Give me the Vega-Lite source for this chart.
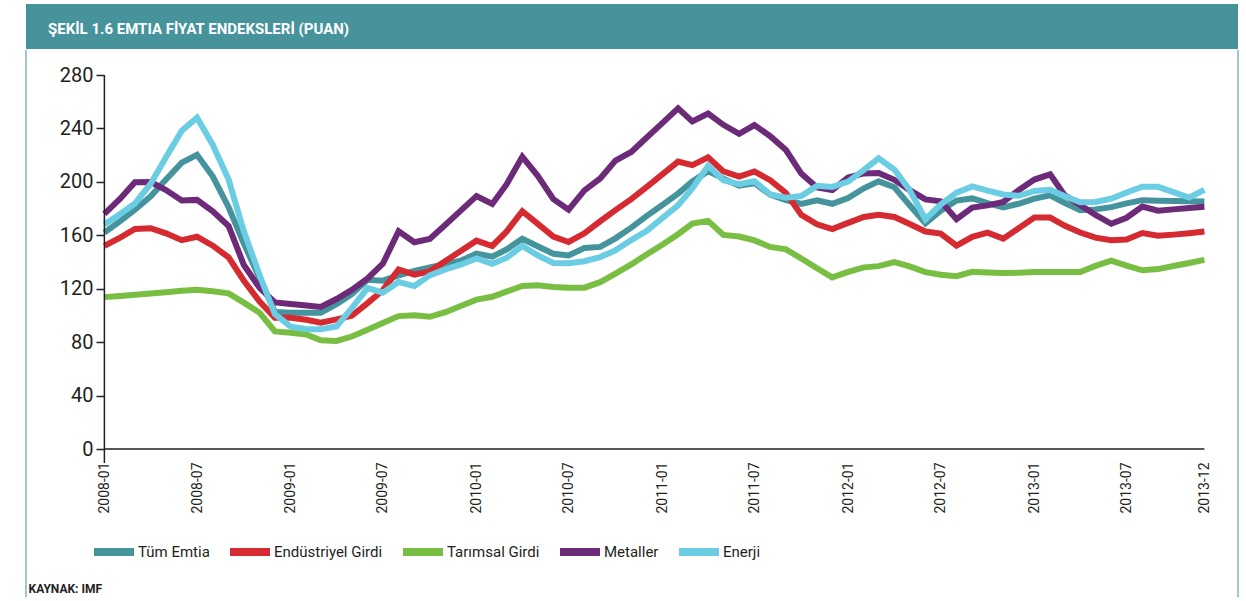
{
  "$schema": "https://vega.github.io/schema/vega-lite/v6.json",
  "background": "white",
  "padding": {"left": 25, "top": 4, "right": 5, "bottom": 0},
  "spacing": 0,
  "config": {
    "view": {"stroke": null},
    "font": "Roboto"
  },
  "vconcat": [
    {
      "width": 1212,
      "height": 45,
      "data": {"values": [{}]},
      "mark": {"type": "rect", "color": "#46939c"},
      "encoding": {
        "x": {"value": 0},
        "x2": {"value": "width"},
        "y": {"value": 0},
        "y2": {"value": "height"}
      },
      "title": {
        "text": "ŞEKİL 1.6 EMTIA FİYAT ENDEKSLERİ (PUAN)",
        "orient": "top",
        "anchor": "start",
        "frame": "group",
        "offset": -32,
        "dx": 22,
        "dy": 13,
        "baseline": "alphabetic",
        "color": "white",
        "fontSize": 15,
        "fontWeight": "bold",
        "font": "Roboto"
      }
    },
    {
      "width": 1212,
      "height": 374,
      "layer": [
        {
          "data": {"values": [{}]},
          "mark": {"type": "rule", "color": "#9ccacf", "strokeWidth": 2},
          "encoding": {
            "x": {"datum": {"year": 2007, "month": 7, "date": 31, "utc": true}, "type": "temporal"},
            "y": {"datum": -111, "type": "quantitative"},
            "y2": {"datum": 298.7}
          }
        },
        {
          "data": {"values": [{}]},
          "mark": {"type": "rule", "color": "#9ccacf", "strokeWidth": 2},
          "encoding": {
            "x": {"datum": {"year": 2014, "month": 2, "date": 5, "utc": true}, "type": "temporal"},
            "y": {"datum": -111, "type": "quantitative"},
            "y2": {"datum": 298.7}
          }
        },
        {
          "data": {
            "values": [
              {"ay": "2008-01-01", "Tüm Emtia": 162, "Endüstriyel Girdi": 152, "Tarımsal Girdi": 113.7, "Metaller": 176, "Enerji": 168},
              {"ay": "2008-02-01", "Tüm Emtia": 170.6, "Endüstriyel Girdi": 158.3, "Tarımsal Girdi": 114.6, "Metaller": 187.4, "Enerji": 176},
              {"ay": "2008-03-01", "Tüm Emtia": 179.1, "Endüstriyel Girdi": 164.7, "Tarımsal Girdi": 115.5, "Metaller": 199.7, "Enerji": 183.8},
              {"ay": "2008-04-01", "Tüm Emtia": 189.2, "Endüstriyel Girdi": 165.3, "Tarımsal Girdi": 116.5, "Metaller": 199.8, "Enerji": 198.6},
              {"ay": "2008-05-01", "Tüm Emtia": 201.8, "Endüstriyel Girdi": 161.5, "Tarımsal Girdi": 117.4, "Metaller": 193.9, "Enerji": 218.4},
              {"ay": "2008-06-01", "Tüm Emtia": 214.4, "Endüstriyel Girdi": 156.3, "Tarımsal Girdi": 118.4, "Metaller": 186.1, "Enerji": 238.2},
              {"ay": "2008-07-01", "Tüm Emtia": 220.3, "Endüstriyel Girdi": 158.9, "Tarımsal Girdi": 119.3, "Metaller": 186.5, "Enerji": 248},
              {"ay": "2008-08-01", "Tüm Emtia": 204, "Endüstriyel Girdi": 152.2, "Tarımsal Girdi": 118.1, "Metaller": 178, "Enerji": 227.6},
              {"ay": "2008-09-01", "Tüm Emtia": 181, "Endüstriyel Girdi": 143.4, "Tarımsal Girdi": 116.5, "Metaller": 167, "Enerji": 201.7},
              {"ay": "2008-10-01", "Tüm Emtia": 153.8, "Endüstriyel Girdi": 126, "Tarımsal Girdi": 109.6, "Metaller": 137.7, "Enerji": 163},
              {"ay": "2008-11-01", "Tüm Emtia": 127.9, "Endüstriyel Girdi": 110.3, "Tarımsal Girdi": 102, "Metaller": 120.6, "Enerji": 130},
              {"ay": "2008-12-01", "Tüm Emtia": 102.5, "Endüstriyel Girdi": 98.3, "Tarımsal Girdi": 88, "Metaller": 109.7, "Enerji": 101},
              {"ay": "2009-01-01", "Tüm Emtia": 102, "Endüstriyel Girdi": 98.3, "Tarımsal Girdi": 87, "Metaller": 108.5, "Enerji": 91.6},
              {"ay": "2009-02-01", "Tüm Emtia": 102, "Endüstriyel Girdi": 96.8, "Tarımsal Girdi": 85.8, "Metaller": 107.4, "Enerji": 89.6},
              {"ay": "2009-03-01", "Tüm Emtia": 102, "Endüstriyel Girdi": 94.6, "Tarımsal Girdi": 81.4, "Metaller": 106.3, "Enerji": 89.6},
              {"ay": "2009-04-01", "Tüm Emtia": 108.4, "Endüstriyel Girdi": 97, "Tarımsal Girdi": 80.9, "Metaller": 112.3, "Enerji": 91.8},
              {"ay": "2009-05-01", "Tüm Emtia": 115.9, "Endüstriyel Girdi": 99.7, "Tarımsal Girdi": 84.2, "Metaller": 119.1, "Enerji": 105.4},
              {"ay": "2009-06-01", "Tüm Emtia": 126.7, "Endüstriyel Girdi": 109.2, "Tarımsal Girdi": 89.3, "Metaller": 127.7, "Enerji": 120.5},
              {"ay": "2009-07-01", "Tüm Emtia": 126, "Endüstriyel Girdi": 118.9, "Tarımsal Girdi": 94.4, "Metaller": 138.7, "Enerji": 117},
              {"ay": "2009-08-01", "Tüm Emtia": 130, "Endüstriyel Girdi": 134.4, "Tarımsal Girdi": 99.5, "Metaller": 163, "Enerji": 125},
              {"ay": "2009-09-01", "Tüm Emtia": 133.4, "Endüstriyel Girdi": 130.5, "Tarımsal Girdi": 100.1, "Metaller": 154.8, "Enerji": 122},
              {"ay": "2009-10-01", "Tüm Emtia": 135.9, "Endüstriyel Girdi": 133, "Tarımsal Girdi": 99, "Metaller": 157.3, "Enerji": 130},
              {"ay": "2009-11-01", "Tüm Emtia": 138.4, "Endüstriyel Girdi": 140.7, "Tarımsal Girdi": 102.4, "Metaller": 167.9, "Enerji": 134.5},
              {"ay": "2009-12-01", "Tüm Emtia": 140.9, "Endüstriyel Girdi": 148.3, "Tarımsal Girdi": 107.1, "Metaller": 178.5, "Enerji": 138},
              {"ay": "2010-01-01", "Tüm Emtia": 146.3, "Endüstriyel Girdi": 156, "Tarımsal Girdi": 111.8, "Metaller": 189.4, "Enerji": 142.7},
              {"ay": "2010-02-01", "Tüm Emtia": 144, "Endüstriyel Girdi": 152, "Tarımsal Girdi": 114, "Metaller": 183.4, "Enerji": 138.7},
              {"ay": "2010-03-01", "Tüm Emtia": 149.4, "Endüstriyel Girdi": 162.7, "Tarımsal Girdi": 117.8, "Metaller": 198.1, "Enerji": 143},
              {"ay": "2010-04-01", "Tüm Emtia": 157.4, "Endüstriyel Girdi": 178, "Tarımsal Girdi": 122.1, "Metaller": 218.8, "Enerji": 152},
              {"ay": "2010-05-01", "Tüm Emtia": 151.8, "Endüstriyel Girdi": 168.7, "Tarımsal Girdi": 122.5, "Metaller": 204.7, "Enerji": 145},
              {"ay": "2010-06-01", "Tüm Emtia": 146.2, "Endüstriyel Girdi": 159, "Tarımsal Girdi": 121.3, "Metaller": 187, "Enerji": 139.3},
              {"ay": "2010-07-01", "Tüm Emtia": 144.9, "Endüstriyel Girdi": 155, "Tarımsal Girdi": 120.8, "Metaller": 179.2, "Enerji": 139.1},
              {"ay": "2010-08-01", "Tüm Emtia": 150.5, "Endüstriyel Girdi": 161.5, "Tarımsal Girdi": 120.8, "Metaller": 193.6, "Enerji": 140.6},
              {"ay": "2010-09-01", "Tüm Emtia": 151.3, "Endüstriyel Girdi": 170.5, "Tarımsal Girdi": 124.9, "Metaller": 202.5, "Enerji": 143.7},
              {"ay": "2010-10-01", "Tüm Emtia": 157.7, "Endüstriyel Girdi": 178.8, "Tarımsal Girdi": 131.3, "Metaller": 215.9, "Enerji": 148.7},
              {"ay": "2010-11-01", "Tüm Emtia": 165.7, "Endüstriyel Girdi": 187.1, "Tarımsal Girdi": 138.2, "Metaller": 222.4, "Enerji": 156.4},
              {"ay": "2010-12-01", "Tüm Emtia": 174.4, "Endüstriyel Girdi": 196, "Tarımsal Girdi": 145.6, "Metaller": 233, "Enerji": 163.2},
              {"ay": "2011-01-01", "Tüm Emtia": 182.7, "Endüstriyel Girdi": 205.6, "Tarımsal Girdi": 152.9, "Metaller": 244, "Enerji": 172.8},
              {"ay": "2011-02-01", "Tüm Emtia": 191.2, "Endüstriyel Girdi": 215.2, "Tarımsal Girdi": 160.8, "Metaller": 255, "Enerji": 182.5},
              {"ay": "2011-03-01", "Tüm Emtia": 200.3, "Endüstriyel Girdi": 212.5, "Tarımsal Girdi": 168.8, "Metaller": 245.2, "Enerji": 195},
              {"ay": "2011-04-01", "Tüm Emtia": 208, "Endüstriyel Girdi": 218.3, "Tarımsal Girdi": 170.8, "Metaller": 251.1, "Enerji": 212},
              {"ay": "2011-05-01", "Tüm Emtia": 202.4, "Endüstriyel Girdi": 207.8, "Tarımsal Girdi": 160.3, "Metaller": 242.7, "Enerji": 201.2},
              {"ay": "2011-06-01", "Tüm Emtia": 197.1, "Endüstriyel Girdi": 203.9, "Tarımsal Girdi": 159.1, "Metaller": 236, "Enerji": 198.3},
              {"ay": "2011-07-01", "Tüm Emtia": 199, "Endüstriyel Girdi": 207.8, "Tarımsal Girdi": 156.2, "Metaller": 242.5, "Enerji": 200.5},
              {"ay": "2011-08-01", "Tüm Emtia": 190.4, "Endüstriyel Girdi": 201.2, "Tarımsal Girdi": 151.3, "Metaller": 234.2, "Enerji": 190.5},
              {"ay": "2011-09-01", "Tüm Emtia": 186.4, "Endüstriyel Girdi": 191.7, "Tarımsal Girdi": 149.5, "Metaller": 223.8, "Enerji": 188.1},
              {"ay": "2011-10-01", "Tüm Emtia": 183.5, "Endüstriyel Girdi": 175.3, "Tarımsal Girdi": 142.6, "Metaller": 206.2, "Enerji": 189.4},
              {"ay": "2011-11-01", "Tüm Emtia": 186.2, "Endüstriyel Girdi": 168.2, "Tarımsal Girdi": 135.3, "Metaller": 195.8, "Enerji": 197},
              {"ay": "2011-12-01", "Tüm Emtia": 183.6, "Endüstriyel Girdi": 164.7, "Tarımsal Girdi": 128.5, "Metaller": 193.8, "Enerji": 196.2},
              {"ay": "2012-01-01", "Tüm Emtia": 187.8, "Endüstriyel Girdi": 169.3, "Tarımsal Girdi": 132.6, "Metaller": 203.2, "Enerji": 200.2},
              {"ay": "2012-02-01", "Tüm Emtia": 195.2, "Endüstriyel Girdi": 173.7, "Tarımsal Girdi": 136, "Metaller": 206.3, "Enerji": 208.9},
              {"ay": "2012-03-01", "Tüm Emtia": 200.4, "Endüstriyel Girdi": 175.4, "Tarımsal Girdi": 136.9, "Metaller": 206.6, "Enerji": 217.6},
              {"ay": "2012-04-01", "Tüm Emtia": 196, "Endüstriyel Girdi": 173.7, "Tarımsal Girdi": 139.9, "Metaller": 201.5, "Enerji": 209.1},
              {"ay": "2012-05-01", "Tüm Emtia": 182.5, "Endüstriyel Girdi": 168.4, "Tarımsal Girdi": 136.7, "Metaller": 193.8, "Enerji": 193.9},
              {"ay": "2012-06-01", "Tüm Emtia": 169, "Endüstriyel Girdi": 162.8, "Tarımsal Girdi": 132.4, "Metaller": 186.9, "Enerji": 172},
              {"ay": "2012-07-01", "Tüm Emtia": 178.4, "Endüstriyel Girdi": 161.3, "Tarımsal Girdi": 130.5, "Metaller": 185.5, "Enerji": 183},
              {"ay": "2012-08-01", "Tüm Emtia": 186, "Endüstriyel Girdi": 152.2, "Tarımsal Girdi": 129.4, "Metaller": 172, "Enerji": 191.9},
              {"ay": "2012-09-01", "Tüm Emtia": 187.6, "Endüstriyel Girdi": 158.8, "Tarımsal Girdi": 132.7, "Metaller": 180.8, "Enerji": 196.6},
              {"ay": "2012-10-01", "Tüm Emtia": 184.1, "Endüstriyel Girdi": 162, "Tarımsal Girdi": 132.2, "Metaller": 182.4, "Enerji": 193.4},
              {"ay": "2012-11-01", "Tüm Emtia": 180.8, "Endüstriyel Girdi": 157.5, "Tarımsal Girdi": 131.7, "Metaller": 185, "Enerji": 190.6},
              {"ay": "2012-12-01", "Tüm Emtia": 183.6, "Endüstriyel Girdi": 165.2, "Tarımsal Girdi": 132, "Metaller": 193.8, "Enerji": 189.6},
              {"ay": "2013-01-01", "Tüm Emtia": 187.5, "Endüstriyel Girdi": 173.3, "Tarımsal Girdi": 132.5, "Metaller": 201.7, "Enerji": 193.2},
              {"ay": "2013-02-01", "Tüm Emtia": 189.9, "Endüstriyel Girdi": 173.3, "Tarımsal Girdi": 132.5, "Metaller": 205.6, "Enerji": 194},
              {"ay": "2013-03-01", "Tüm Emtia": 184.4, "Endüstriyel Girdi": 167.3, "Tarımsal Girdi": 132.5, "Metaller": 190.2, "Enerji": 189.4},
              {"ay": "2013-04-01", "Tüm Emtia": 178.8, "Endüstriyel Girdi": 162.1, "Tarımsal Girdi": 132.5, "Metaller": 182.6, "Enerji": 184.7},
              {"ay": "2013-05-01", "Tüm Emtia": 179.4, "Endüstriyel Girdi": 158.2, "Tarımsal Girdi": 137.1, "Metaller": 175.2, "Enerji": 184.9},
              {"ay": "2013-06-01", "Tüm Emtia": 181.1, "Endüstriyel Girdi": 156.3, "Tarımsal Girdi": 141, "Metaller": 168.6, "Enerji": 187.4},
              {"ay": "2013-07-01", "Tüm Emtia": 183.9, "Endüstriyel Girdi": 156.8, "Tarımsal Girdi": 137.3, "Metaller": 173.1, "Enerji": 192},
              {"ay": "2013-08-01", "Tüm Emtia": 186.3, "Endüstriyel Girdi": 161.7, "Tarımsal Girdi": 133.8, "Metaller": 181.5, "Enerji": 196.3},
              {"ay": "2013-09-01", "Tüm Emtia": 185.9, "Endüstriyel Girdi": 159.6, "Tarımsal Girdi": 134.7, "Metaller": 178.4, "Enerji": 196.3},
              {"ay": "2013-10-01", "Tüm Emtia": 185.7, "Endüstriyel Girdi": 160.5, "Tarımsal Girdi": 137, "Metaller": 179.4, "Enerji": 192.3},
              {"ay": "2013-11-01", "Tüm Emtia": 185.5, "Endüstriyel Girdi": 161.6, "Tarımsal Girdi": 139.3, "Metaller": 180.4, "Enerji": 188.3},
              {"ay": "2013-12-01", "Tüm Emtia": 185.3, "Endüstriyel Girdi": 162.8, "Tarımsal Girdi": 141.6, "Metaller": 181.4, "Enerji": 194}
            ]
          },
          "transform": [
            {"fold": ["Tüm Emtia", "Endüstriyel Girdi", "Tarımsal Girdi", "Metaller", "Enerji"], "as": ["seri", "deger"]}
          ],
          "mark": {"type": "line", "strokeWidth": 6, "strokeJoin": "miter"},
          "encoding": {
            "x": {
              "field": "ay",
              "type": "temporal",
              "scale": {
                "type": "utc",
                "domain": [
                  {"year": 2007, "month": 7, "date": 31, "utc": true},
                  {"year": 2014, "month": 2, "date": 5, "utc": true}
                ]
              },
              "axis": {
                "values": [
                  {"year": 2008, "month": 1, "date": 1, "utc": true},
                  {"year": 2008, "month": 7, "date": 1, "utc": true},
                  {"year": 2009, "month": 1, "date": 1, "utc": true},
                  {"year": 2009, "month": 7, "date": 1, "utc": true},
                  {"year": 2010, "month": 1, "date": 1, "utc": true},
                  {"year": 2010, "month": 7, "date": 1, "utc": true},
                  {"year": 2011, "month": 1, "date": 1, "utc": true},
                  {"year": 2011, "month": 7, "date": 1, "utc": true},
                  {"year": 2012, "month": 1, "date": 1, "utc": true},
                  {"year": 2012, "month": 7, "date": 1, "utc": true},
                  {"year": 2013, "month": 1, "date": 1, "utc": true},
                  {"year": 2013, "month": 7, "date": 1, "utc": true},
                  {"year": 2013, "month": 12, "date": 1, "utc": true}
                ],
                "labelExpr": "utcFormat(datum.value, '%Y-%m')",
                "labelAngle": -90,
                "labelPadding": 13,
                "labelFontSize": 14,
                "labelColor": "#231f20",
                "labelOverlap": false,
                "labelFlush": false,
                "ticks": false,
                "domain": false,
                "grid": false,
                "title": "KAYNAK: IMF",
                "titleX": 2,
                "titleY": 143,
                "titleAlign": "left",
                "titleAnchor": "start",
                "titleBaseline": "alphabetic",
                "titleFontSize": 12,
                "titleFontWeight": "bold",
                "titleColor": "#231f20"
              }
            },
            "y": {
              "field": "deger",
              "type": "quantitative",
              "scale": {"domain": [0, 280], "nice": false},
              "axis": {
                "values": [0, 40, 80, 120, 160, 200, 240, 280],
                "offset": -78,
                "domain": false,
                "grid": false,
                "tickSize": 8,
                "tickWidth": 1.5,
                "tickColor": "#231f20",
                "labelFontSize": 20,
                "labelPadding": 3,
                "labelColor": "#231f20",
                "title": null
              }
            },
            "color": {
              "field": "seri",
              "type": "nominal",
              "scale": {
                "domain": ["Tüm Emtia", "Endüstriyel Girdi", "Tarımsal Girdi", "Metaller", "Enerji"],
                "range": ["#45939c", "#d42a30", "#78be43", "#6c2a78", "#6bcde3"]
              },
              "legend": {
                "title": null,
                "orient": "none",
                "legendX": 64,
                "legendY": 524,
                "direction": "horizontal",
                "gridAlign": "none",
                "symbolType": "stroke",
                "symbolSize": 1600,
                "symbolStrokeWidth": 8,
                "labelOffset": 0,
                "columnPadding": 4,
                "labelFontSize": 15,
                "labelColor": "#231f20"
              }
            }
          }
        },
        {
          "data": {"values": [{}]},
          "mark": {"type": "rule", "color": "#231f20", "strokeWidth": 1.5},
          "encoding": {
            "x": {"datum": {"year": 2008, "month": 1, "date": 1, "utc": true}, "type": "temporal"},
            "x2": {"datum": {"year": 2013, "month": 12, "date": 1, "utc": true}},
            "y": {"datum": 0, "type": "quantitative"}
          }
        },
        {
          "data": {"values": [{}]},
          "mark": {"type": "rule", "color": "#231f20", "strokeWidth": 1.5},
          "encoding": {
            "x": {"datum": {"year": 2008, "month": 1, "date": 1, "utc": true}, "type": "temporal"},
            "y": {"datum": -10.5, "type": "quantitative"},
            "y2": {"datum": 280}
          }
        }
      ]
    }
  ]
}
